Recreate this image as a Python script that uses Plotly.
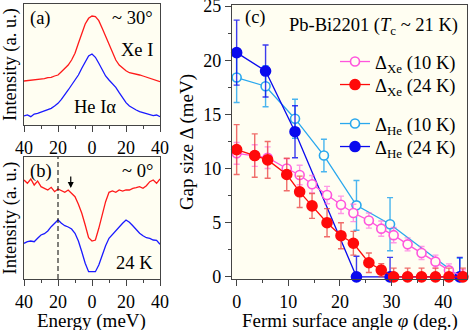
import plotly.graph_objects as go

# ---- panels (a), (b): EDC-like spectra, energy in meV (shown as |E|)
energy = list(range(-40, 41, 2))

xe_30 = [4.40, 4.43, 4.50, 4.47, 4.57, 4.57, 4.63, 4.73, 4.77, 4.90, 5.00, 5.33, 5.67, 6.00,
         6.50, 7.17, 8.17, 9.17, 10.10, 10.67, 10.90, 10.83, 10.43, 9.67, 8.83, 8.00, 7.17,
         6.50, 6.00, 5.67, 5.43, 5.23, 5.17, 5.10, 5.00, 4.90, 4.77, 4.67, 4.57, 4.43, 4.33]
he_30 = [0.90, 1.00, 0.83, 1.10, 1.17, 1.30, 1.40, 1.50, 1.67, 1.90, 2.17, 2.57, 3.00, 3.50,
         4.00, 4.50, 5.00, 5.67, 6.33, 6.90, 7.10, 6.77, 6.17, 5.50, 4.90, 4.50, 4.17, 3.77,
         3.23, 2.67, 2.23, 1.90, 1.67, 1.50, 1.33, 1.23, 1.10, 1.00, 0.93, 1.00, 0.83]
xe_0 = [9.90, 9.57, 10.00, 9.40, 9.80, 9.23, 9.07, 8.90, 9.17, 8.73, 9.00, 8.80, 8.67, 8.90,
        8.57, 8.23, 7.47, 6.57, 5.40, 4.13, 3.80, 3.90, 5.07, 6.40, 7.73, 8.67, 8.80, 8.67,
        8.90, 8.80, 8.90, 8.90, 9.07, 9.13, 9.23, 9.07, 9.33, 9.73, 9.90, 9.57, 10.00]
he_0 = [3.57, 3.73, 3.80, 3.73, 4.07, 4.40, 4.53, 4.80, 5.23, 5.57, 5.90, 5.57, 5.33, 5.20,
        5.00, 4.57, 3.80, 2.73, 1.57, 0.73, 0.73, 0.73, 1.40, 2.40, 3.33, 4.07, 4.47, 4.80,
        5.23, 5.57, 5.90, 5.67, 5.33, 4.90, 4.57, 4.33, 4.13, 4.07, 3.90, 3.87, 3.47]

# ---- panel (c): gap vs Fermi surface angle
phi_xe = [0, 3.5, 6.0, 9.7, 12.2, 14.6, 17.5, 20.2, 22.6, 25.6, 28.0, 30.4, 33.1, 35.8, 38.5, 41.1, 43.8]
gap_xe10 = [11.4, 11.2, 11.0, 10.0, 9.4, 8.55, 7.55, 6.65, 5.9, 5.2, 4.45, 3.85, 3.0, 2.2, 1.4, 0.6, 0.05]
err_xe10 = [1.0, 1.0, 1.0, 0.9, 0.9, 0.8, 0.8, 0.8, 0.8, 0.7, 0.7, 0.7, 0.6, 0.6, 0.6, 0.6, 0.6]
gap_xe24 = [11.75, 11.2, 10.8, 9.45, 7.85, 6.55, 5.0, 3.8, 3.1, 1.3, 0.62, 0, 0, 0, 0, 0, 0]
err_xe24 = [2.3, 2.0, 1.7, 1.5, 1.45, 1.15, 1.3, 1.2, 1.1, 0.9, 0.6, 0.8, 0.8, 0.8, 0.8, 0.8, 0.8]

phi_he = [0, 5.6, 11.3, 16.9, 23.2, 29.7, 43.2]
gap_he10 = [18.4, 17.6, 14.6, 11.2, 6.6, 4.86, 0]
err_he10 = [2.3, 1.9, 1.8, 1.5, 2.3, 2.45, 1.7]
phi_he24 = [0, 5.6, 11.3, 23.2, 29.7, 43.2]
gap_he24 = [20.7, 19.0, 13.4, 0, 0, 0]
err_he24 = [3.0, 2.4, 2.4, 1.9, 1.8, 1.8]

FONT = "Liberation Serif"
BG = "#fffef2"
FRAME = "#444444"
W, H = 470, 330


def px_x(p):
    return p / W


def px_y(p):
    return 1 - p / H


fig = go.Figure()

# panel (a)
fig.add_trace(go.Scatter(x=energy, y=xe_30, mode="lines", line=dict(color="#ff1a1a", width=1.3),
                         xaxis="x", yaxis="y", showlegend=False))
fig.add_trace(go.Scatter(x=energy, y=he_30, mode="lines", line=dict(color="#1a1aff", width=1.3),
                         xaxis="x", yaxis="y", showlegend=False))
# panel (b)
fig.add_trace(go.Scatter(x=energy, y=xe_0, mode="lines", line=dict(color="#ff1a1a", width=1.3),
                         xaxis="x2", yaxis="y2", showlegend=False))
fig.add_trace(go.Scatter(x=energy, y=he_0, mode="lines", line=dict(color="#1a1aff", width=1.3),
                         xaxis="x2", yaxis="y2", showlegend=False))


def gap_trace(x, y, err, color, errcolor, filled, name, legend):
    return go.Scatter(
        x=x, y=y, mode="lines+markers", name=name, legend=legend,
        line=dict(color=color, width=1.3),
        marker=dict(size=10 if filled else 9, color=color if filled else BG,
                    line=dict(color=color, width=1.6)),
        error_y=dict(type="data", array=err, color=errcolor, thickness=1.4, width=3),
        cliponaxis=False, xaxis="x3", yaxis="y3",
    )


fig.add_trace(gap_trace(phi_he, gap_he10, err_he10, "#2aa8ee", "rgba(42,168,238,0.85)", False,
                        "Δ<sub>He</sub> (10 K)", "legend3"))
fig.add_trace(gap_trace(phi_he24, gap_he24, err_he24, "#0a0aee", "rgba(10,10,238,0.8)", True,
                        "Δ<sub>He</sub> (24 K)", "legend4"))
fig.add_trace(gap_trace(phi_xe, gap_xe10, err_xe10, "#ff55dd", "rgba(255,85,221,0.6)", False,
                        "Δ<sub>Xe</sub> (10 K)", "legend"))
fig.add_trace(gap_trace(phi_xe, gap_xe24, err_xe24, "#ff0a0a", "rgba(235,60,60,0.75)", True,
                        "Δ<sub>Xe</sub> (24 K)", "legend2"))

frame = dict(showline=True, linecolor=FRAME, linewidth=1.2, mirror=True, showgrid=False,
             zeroline=False, ticks="outside", ticklen=6, tickwidth=1, tickcolor=FRAME,
             automargin=False, ticklabeloverflow="allow",
             tickfont=dict(family=FONT, size=18, color="black"))
e_axis = dict(frame, range=[-40, 40], tickvals=[-40, -20, 0, 20, 40],
              ticktext=["40", "20", "0", "20", "40"],
              minor=dict(dtick=10, tick0=0, ticks="outside", ticklen=3, tickcolor=FRAME))
int_axis = dict(showline=True, linecolor=FRAME, linewidth=1.2, mirror=True, showgrid=False,
                zeroline=False, showticklabels=False, ticks="", automargin=False,
                title=dict(text="Intensity (a. u.)", font=dict(family=FONT, size=18.5), standoff=2))


def legend_at(top_px):
    return dict(x=px_x(335), y=px_y(top_px), xanchor="left", yanchor="top",
                bgcolor="rgba(0,0,0,0)", font=dict(family=FONT, size=18.5), itemwidth=30)


lx = [px_x(24), px_x(160)]
fig.update_layout(
    width=W, height=H, margin=dict(l=0, r=0, t=0, b=0, autoexpand=False),
    paper_bgcolor="white", plot_bgcolor=BG,
    font=dict(family=FONT, size=18, color="black"),
    xaxis=dict(e_axis, domain=lx, anchor="y"),
    yaxis=dict(int_axis, domain=[px_y(125), px_y(4)], range=[0, 12.1], anchor="x"),
    xaxis2=dict(e_axis, domain=lx, anchor="y2"),
    yaxis2=dict(int_axis, domain=[px_y(279), px_y(157)], range=[0, 12.2], anchor="x2"),
    xaxis3=dict(frame, domain=[px_x(232), px_x(467)], anchor="y3", range=[-0.9, 44.6],
                dtick=10, tick0=0,
                minor=dict(dtick=5, ticks="outside", ticklen=3, tickcolor=FRAME)),
    yaxis3=dict(frame, domain=[px_y(279), px_y(5)], anchor="x3", range=[-0.2, 25.1],
                dtick=5, tick0=0,
                minor=dict(dtick=2.5, ticks="outside", ticklen=3, tickcolor=FRAME),
                title=dict(text="Gap size Δ (meV)", font=dict(family=FONT, size=19), standoff=4)),
    legend=legend_at(43),
    legend2=legend_at(66),
    legend3=legend_at(105),
    legend4=legend_at(128),
    showlegend=True,
)

labels = [
    ("x domain", "y domain", 0.03, 0.985, "(a)", "left", "top"),
    ("x domain", "y domain", 0.965, 0.985, "~ 30°", "right", "top"),
    ("x domain", "y domain", 0.965, 0.62, "Xe I", "right", "middle"),
    ("x domain", "y domain", 0.353, 0.149, "He Iα", "left", "middle"),
    ("x2 domain", "y2 domain", 0.03, 0.985, "(b)", "left", "top"),
    ("x2 domain", "y2 domain", 0.965, 0.985, "~ 0°", "right", "top"),
    ("x2 domain", "y2 domain", 0.965, 0.131, "24 K", "right", "middle"),
    ("x3 domain", "y3 domain", 0.045, 1.0, "(c)", "left", "top"),
    ("x3 domain", "y3 domain", 0.97, 0.972, "Pb-Bi2201 (<i>T</i><sub>c</sub> ~ 21 K)", "right", "top"),
]
for xr, yr, x, y, t, xa, ya in labels:
    fig.add_annotation(xref=xr, yref=yr, x=x, y=y, text=t, showarrow=False,
                       xanchor=xa, yanchor=ya, font=dict(family=FONT, size=18.5, color="black"))

# x-axis titles placed as paper annotations so they sit just below the tick labels
for xc, t in [(91, "Energy (meV)"), (350, "Fermi surface angle <i>φ</i> (deg.)")]:
    fig.add_annotation(xref="paper", yref="paper", x=px_x(xc), y=px_y(321), text=t,
                       showarrow=False, xanchor="center", yanchor="middle",
                       font=dict(family=FONT, size=19, color="black"))

# arrow marking the kink in (b)
fig.add_annotation(xref="x2", yref="y2", x=-12.5, y=9.1, text="", showarrow=True,
                   ax=0, ay=-13, arrowhead=2, arrowsize=1, arrowwidth=1.2, arrowcolor="black")
# dashed reference line at -20 meV in (b)
fig.add_shape(type="line", xref="x2", yref="y2 domain", x0=-20, x1=-20, y0=0, y1=1,
              line=dict(color="black", width=1, dash="5px,3px"))

# drop the browser's default page margin so the figure sits at the window corner
fig.write_html("out.html", config={"displayModeBar": False},
               post_script="document.body.style.margin='0';")
